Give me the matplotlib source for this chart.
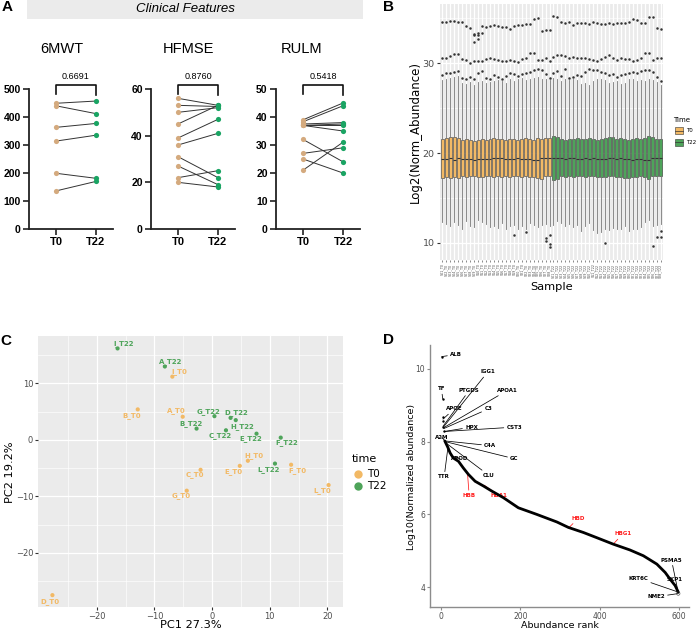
import matplotlib.pyplot as plt
from matplotlib.lines import Line2D
from matplotlib.patches import Rectangle
import numpy as np

W, H = 697, 631

# ---------------- panel A : clinical scores, paired T0 -> T22
clin_names = ["6MWT", "HFMSE", "RULM"]
p_values = ["0.6691", "0.8760", "0.5418"]
mwt_t0 = [449, 440, 363, 314, 199, 136]
mwt_t22 = [457, 412, 377, 335, 181, 170]
hfmse_t0 = [56, 53, 50, 45, 39, 36, 31, 27, 22, 20]
hfmse_t22 = [53, 52.5, 52, 53, 47, 41, 22, 19, 25, 18]
rulm_t0 = [39, 38.3, 37.5, 37, 37, 37, 32, 27, 25, 21]
rulm_t22 = [45, 44, 38, 37.5, 37, 35, 24, 29, 20, 31]
clin_ymax = [500, 60, 50]
clin_ystep = [100, 20, 10]

# ---------------- panel B : per-sample boxplot stats (28 T0 + 28 T22)
q1_t0 = [17.2, 17.3, 17.2, 17.3, 17.2, 17.4, 17.3,
         17.4, 17.4, 17.3, 17.3, 17.4, 17.4, 17.3,
         17.4, 17.3, 17.4, 17.3, 17.4, 17.4, 17.3,
         17.4, 17.3, 17.3, 17.2, 17.1, 17.4, 17.4]
med_t0 = [19.3, 19.3, 19.4, 19.2, 19.4, 19.3, 19.3,
          19.3, 19.2, 19.3, 19.3, 19.3, 19.3, 19.4,
          19.4, 19.4, 19.3, 19.3, 19.3, 19.4, 19.3,
          19.3, 19.3, 19.2, 19.2, 19.5, 19.5, 19.4]
q3_t0 = [21.6, 21.7, 21.8, 21.8, 21.7, 21.5, 21.6,
         21.5, 21.4, 21.5, 21.6, 21.5, 21.6, 21.7,
         21.6, 21.6, 21.5, 21.6, 21.6, 21.5, 21.6,
         21.7, 21.6, 21.5, 21.7, 21.6, 21.7, 21.7]
wlo_t0 = [12.3, 12.1, 11.9, 12.3, 12.0, 11.6, 12.4,
          11.9, 11.8, 12.6, 12.3, 12.1, 11.8, 11.9,
          11.7, 12.2, 11.6, 11.9, 12.0, 11.5, 11.9,
          11.6, 12.2, 12.0, 11.8, 12.0, 12.1, 11.9]
whi_t0 = [28.1, 28.3, 28.4, 28.5, 28.6, 27.8, 27.7,
          27.9, 27.6, 27.9, 28.0, 27.8, 27.9, 28.0,
          28.1, 28.0, 27.8, 28.2, 28.0, 28.2, 28.4,
          28.1, 28.3, 28.4, 28.5, 28.3, 28.3, 28.1]
fl_top_t0 = [34.6, 34.6, 34.7, 34.7, 34.6, 34.6, 34.1,
             33.9, 33.2, 33.4, 34.2, 34.0, 34.2, 34.3,
             34.1, 34.0, 34.0, 33.8, 34.1, 34.3, 34.3,
             34.4, 34.4, 34.9, 35.0, 33.6, 33.7, 33.7]
fl_mid_t0 = [30.6, 30.6, 30.8, 31.0, 31.0, 30.5, 30.4,
             30.0, 30.2, 30.3, 30.3, 30.5, 30.6, 30.5,
             30.4, 30.3, 30.2, 30.4, 30.3, 30.1, 30.5,
             30.6, 31.1, 31.1, 30.4, 30.4, 30.6, 30.2]
fl_low_t0 = [28.7, 28.9, 28.9, 29.0, 29.1, 28.4, 28.3,
             28.5, 28.3, 28.9, 29.1, 28.4, 28.3, 28.7,
             28.5, 28.3, 28.6, 28.9, 28.8, 28.6, 28.8,
             28.9, 29.0, 29.3, 29.4, 29.3, 28.8, 28.4]
q1_t22 = [17.0, 17.1, 17.4, 17.3, 17.4, 17.3, 17.4,
          17.4, 17.3, 17.4, 17.4, 17.3, 17.3, 17.3,
          17.4, 17.4, 17.3, 17.3, 17.2, 17.2, 17.3,
          17.3, 17.4, 17.3, 17.1, 17.4, 17.4, 17.5]
med_t22 = [19.4, 19.4, 19.4, 19.3, 19.4, 19.4, 19.3,
           19.3, 19.4, 19.3, 19.4, 19.3, 19.3, 19.3,
           19.4, 19.4, 19.3, 19.4, 19.3, 19.3, 19.2,
           19.3, 19.3, 19.2, 19.2, 19.5, 19.5, 19.5]
q3_t22 = [21.9, 21.8, 21.6, 21.5, 21.6, 21.6, 21.7,
          21.6, 21.6, 21.7, 21.6, 21.5, 21.6, 21.7,
          21.8, 21.8, 21.6, 21.7, 21.6, 21.5, 21.6,
          21.7, 21.6, 21.7, 21.9, 21.8, 21.6, 21.6]
wlo_t22 = [12.0, 12.4, 12.2, 11.9, 12.1, 11.8, 12.0,
           11.3, 11.9, 12.2, 11.4, 11.1, 11.2, 11.6,
           11.4, 11.7, 11.6, 11.5, 11.9, 11.3, 11.6,
           11.5, 11.8, 12.3, 12.5, 11.9, 12.0, 12.1]
whi_t22 = [28.4, 28.2, 28.0, 28.3, 28.1, 28.2, 28.1,
           27.7, 27.8, 27.6, 28.0, 28.3, 28.3, 28.1,
           27.8, 27.9, 28.0, 27.7, 27.8, 28.2, 28.2,
           28.0, 28.1, 28.0, 28.3, 28.1, 27.9, 27.6]
fl_top_t22 = [35.3, 35.2, 34.6, 34.5, 34.6, 34.3, 34.5,
              34.5, 34.5, 34.4, 34.6, 34.5, 34.4, 34.4,
              34.5, 34.4, 34.5, 34.5, 34.5, 34.6, 34.9,
              34.8, 34.5, 34.5, 35.2, 35.2, 33.9, 33.8]
fl_mid_t22 = [30.7, 30.9, 30.9, 30.8, 30.6, 30.7, 30.6,
              30.6, 30.6, 30.5, 30.4, 30.3, 30.5, 30.7,
              30.9, 30.6, 30.4, 30.6, 30.5, 30.5, 30.2,
              30.4, 30.6, 31.1, 31.1, 30.4, 30.6, 30.6]
fl_low_t22 = [28.9, 29.1, 28.6, 29.4, 28.4, 28.5, 28.7,
              28.6, 29.0, 29.4, 29.3, 29.2, 29.0, 28.9,
              28.7, 28.8, 28.5, 28.7, 28.8, 28.9, 29.0,
              28.9, 29.1, 29.2, 29.2, 29.0, 28.5, 28.0]
extra_pos = [9, 9, 10, 10, 11, 19, 22, 27, 27, 28, 28, 28, 42, 54, 55, 56, 56]
extra_val = [33.3, 32.4, 33.1, 32.7, 33.4, 10.9, 11.2, 10.6, 10.2, 10.9, 9.9,
             9.5, 10.0, 9.7, 10.7, 10.7, 11.3]

# ---------------- panel C : PCA
pc_names = ["I_T22", "A_T22", "I_T0", "B_T0", "A_T0", "G_T22", "D_T22",
            "H_T22", "B_T22", "C_T22", "E_T22", "F_T22", "H_T0", "L_T22",
            "F_T0", "E_T0", "C_T0", "G_T0", "L_T0", "D_T0"]
pc1 = [-16.4, -8.2, -6.9, -12.9, -5.1, 0.4, 3.2, 4.1, -2.7, 2.4, 7.7, 11.9,
       6.2, 10.9, 13.7, 4.8, -2.0, -4.4, 20.2, -27.7]
pc2 = [16.2, 13.0, 11.2, 5.4, 4.1, 4.2, 3.9, 3.5, 2.0, 1.7, 1.1, 0.4,
       -3.7, -4.2, -4.4, -4.6, -5.3, -9.0, -8.0, -27.5]
# label offsets (pixels, right / down)
lab_dx = [6, 6, 7, -6, -6, -6, 6, 6, -6, -6, -6, 6, 6, -6, 6, -6, -6, -6, -6, -2]
lab_dy = [-5, -5, -5, 6, -6, -5, -5, 6, -5, 5, 5, 5, -5, 6, 6, 6, 5, 5, 5, 6]

# ---------------- panel D : abundance rank
top_rank = [1.7, 4.5, 5, 5, 6, 8]
top_value = [10.34, 9.18, 8.68, 8.58, 8.40, 8.28]
curve_rank = [9.5, 17, 23, 31, 44, 56, 69, 86, 107, 128, 157, 195, 241, 292,
              321, 359, 392, 434, 476, 510, 544, 565, 577, 590, 598]
curve_value = [8.02, 7.85, 7.69, 7.55, 7.46, 7.28, 7.10, 6.91, 6.78, 6.64,
               6.46, 6.18, 6.00, 5.79, 5.64, 5.50, 5.36, 5.18, 5.02, 4.86,
               4.63, 4.40, 4.22, 4.04, 3.86]
genes = ["ALB", "IGG1", "TF", "PTGDS", "APOA1", "APOE", "C3", "HPX", "CST3",
         "A2M", "C4A", "GC", "APOD", "CLU", "TTR", "HBB", "HBA1", "HBD",
         "HBG1", "PSMA5", "SKP1", "KRT6C", "NME2"]
gene_rank = [1.7, 6, 4.5, 5, 6, 5, 7, 8, 8, 10, 10, 11, 25, 14, 17, 67, 109,
             321, 434, 596, 592, 598, 598]
gene_value = [10.34, 8.4, 9.18, 8.42, 8.38, 8.62, 8.36, 8.28, 8.28, 8.02,
              8.02, 8.0, 7.62, 7.95, 7.8, 7.1, 6.8, 5.62, 5.18, 3.95, 4.02,
              3.86, 3.82]
label_rank = [38, 118, 1, 71, 167, 33, 119, 77, 185, 2, 124, 185, 48, 121, 8,
              71, 145, 346, 458, 581, 590, 497, 542]
label_value = [10.4, 9.92, 9.45, 9.41, 9.41, 8.9, 8.9, 8.4, 8.4, 8.12, 7.89,
               7.53, 7.53, 7.07, 7.03, 6.52, 6.52, 5.89, 5.46, 4.74, 4.22,
               4.24, 3.73]
red_genes = ["HBB", "HBA1", "HBD", "HBG1"]

TAN, GREEN_A = "#D4AA7E", "#1AA463"
ORANGE, GREEN = "#F2B965", "#4EA45A"
GREY_BG = "#EBEBEB"
TXT = "#4D4D4D"


def box(left, top, right, bottom):
    # pixel box -> figure fraction rect
    return [left / W, 1 - bottom / H, (right - left) / W, (bottom - top) / H]


fig = plt.figure(figsize=(W / 100, H / 100), dpi=100)
ARIAL = "Liberation Sans"

# banner + panel letters
fig.add_artist(Rectangle((27 / W, 1 - 19 / H), 336 / W, 19 / H,
                         transform=fig.transFigure, color=GREY_BG, lw=0))
fig.text(185 / W, 1 - 9 / H, "Clinical Features", style="italic",
         fontsize=9.5, family=ARIAL, ha="center", va="center")
for letter, x, y in [("A", 7, 7), ("B", 388, 7), ("C", 6, 341), ("D", 388, 340)]:
    fig.text(x / W, 1 - y / H, letter, fontsize=11, weight="bold",
             family=ARIAL, ha="center", va="center")

# ---------------- A
clin_t0 = [mwt_t0, hfmse_t0, rulm_t0]
clin_t22 = [mwt_t22, hfmse_t22, rulm_t22]
a_left = [29, 151, 276]
title_x = [0.15, 0.25, -0.03]
for i in range(3):
    ax = fig.add_axes(box(a_left[i], 89, a_left[i] + 84, 229))
    t0, t22 = clin_t0[i], clin_t22[i]
    for a, b in zip(t0, t22):
        ax.plot([0, 1], [a, b], color="#333333", lw=0.7, zorder=2)
    ax.scatter(np.zeros(len(t0)), t0, s=14, color=TAN, lw=0, zorder=3,
               clip_on=False)
    ax.scatter(np.ones(len(t22)), t22, s=14, color=GREEN_A, lw=0, zorder=3,
               clip_on=False)
    ax.set_xlim(-0.675, 1.425)
    ax.set_ylim(0, clin_ymax[i])
    ax.set_yticks(range(0, clin_ymax[i] + 1, clin_ystep[i]))
    ax.set_xticks([0, 1])
    ax.set_xticklabels(["T0", "T22"])
    for s in ["top", "right"]:
        ax.spines[s].set_visible(False)
    for s in ["left", "bottom"]:
        ax.spines[s].set_linewidth(1.3)
        ax.spines[s].set_color("#222222")
    ax.tick_params(length=4, width=1.2, color="#222222", pad=2)
    for lab in ax.get_xticklabels() + ax.get_yticklabels():
        lab.set_fontweight("bold")
        lab.set_family(ARIAL)
        lab.set_fontsize(7.5)
    for lab in ax.get_xticklabels():
        lab.set_fontsize(8)
    tr = ax.get_xaxis_transform()
    ax.plot([0, 0, 1, 1], [0.964, 1.029, 1.029, 0.957], transform=tr,
            clip_on=False, color="#111111", lw=1.2)
    ax.text(0.5, 1.086, p_values[i], transform=tr, ha="center", va="center",
            fontsize=6.5, family=ARIAL)
    ax.text(title_x[i], 1.286, clin_names[i], transform=tr, ha="center",
            va="center", fontsize=10.5, family=ARIAL)

# ---------------- B
axb = fig.add_axes(box(440, 4, 663, 260))
axb.set_facecolor(GREY_BG)
q1 = q1_t0 + q1_t22
med = med_t0 + med_t22
q3 = q3_t0 + q3_t22
wlo = wlo_t0 + wlo_t22
whi = whi_t0 + whi_t22
fl_top = fl_top_t0 + fl_top_t22
fl_mid = fl_mid_t0 + fl_mid_t22
fl_low = fl_low_t0 + fl_low_t22
n_box = len(q1)
pos = list(range(1, n_box + 1))
stats = []
for k in range(n_box):
    fl = [fl_top[k], fl_mid[k], fl_low[k]]
    fl += [v for p, v in zip(extra_pos, extra_val) if p == k + 1]
    stats.append(dict(med=med[k], q1=q1[k], q3=q3[k], whislo=wlo[k],
                      whishi=whi[k], fliers=fl))
bp = axb.bxp(stats, positions=pos, widths=0.75, patch_artist=True,
             showcaps=False,
             boxprops=dict(edgecolor="#333333", lw=0.4),
             whiskerprops=dict(color="#777777", lw=0.6),
             medianprops=dict(color="#333333", lw=0.8),
             flierprops=dict(marker="o", ms=1.8, mfc="#333333", mec="none"))
for k, patch in enumerate(bp["boxes"]):
    patch.set_facecolor(ORANGE if k < len(q1_t0) else GREEN)
axb.set_xlim(0.4, n_box + 0.6)
axb.set_ylim(8.1, 36.6)
axb.set_yticks([10, 20, 30])
axb.set_yticks([15, 25, 35], minor=True)
sample_labels = ["S%02d_T0" % (k + 1) for k in range(len(q1_t0))] + \
                ["S%02d_T22" % (k + 1) for k in range(len(q1_t22))]
axb.set_xticks(pos)
axb.set_xticklabels(sample_labels, rotation=90, fontsize=2.3, color=TXT)
axb.set_axisbelow(True)
axb.grid(which="major", color="white", lw=0.9)
axb.grid(which="minor", axis="y", color="white", lw=0.45)
for s in axb.spines.values():
    s.set_visible(False)
axb.tick_params(axis="y", which="major", labelsize=6.8, labelcolor=TXT,
                length=2.5, color="#333333", pad=1.5)
axb.tick_params(axis="y", which="minor", length=0)
axb.tick_params(axis="x", length=1.5, width=0.4, color="#333333", pad=1)
axb.text(-0.112, 0.5, "Log2(Norm_Abundance)", transform=axb.transAxes,
         rotation=90, ha="center", va="center", fontsize=8.5)
axb.text(0.502, -0.105, "Sample", transform=axb.transAxes, ha="center",
         va="center", fontsize=8.2)
fig.text(673 / W, 1 - 120 / H, "Time", fontsize=5, va="center")
for lab, col, y in [("T0", ORANGE, 131), ("T22", GREEN, 142)]:
    fig.add_artist(Rectangle((675 / W, 1 - (y + 3.5) / H), 8 / W, 7 / H,
                             transform=fig.transFigure, fc=col,
                             ec="#333333", lw=0.4))
    fig.add_artist(Line2D([675 / W, 683 / W], [1 - y / H, 1 - y / H],
                          transform=fig.transFigure, color="#333333", lw=0.5))
    fig.text(686 / W, 1 - y / H, lab, fontsize=4, va="center")

# ---------------- C
axc = fig.add_axes(box(38, 336, 343, 607))
axc.set_facecolor(GREY_BG)
pc_cols = [ORANGE if n.endswith("_T0") else GREEN for n in pc_names]
axc.scatter(pc1, pc2, s=9, c=pc_cols, lw=0, zorder=3)
for name, x, y, dx, dy, col in zip(pc_names, pc1, pc2, lab_dx, lab_dy, pc_cols):
    axc.annotate(name, (x, y), xytext=(dx * 0.72, -dy * 0.72),
                 textcoords="offset points", ha="center", va="center",
                 fontsize=5, weight="bold", color=col, zorder=4)
axc.set_xlim(-30.2, 22.7)
axc.set_ylim(-29.6, 18.4)
axc.set_xticks([-20, -10, 0, 10, 20])
axc.set_yticks([-20, -10, 0, 10])
axc.set_xticks([-25, -15, -5, 5, 15], minor=True)
axc.set_yticks([-25, -15, -5, 5, 15], minor=True)
axc.set_axisbelow(True)
axc.grid(which="major", color="white", lw=0.9)
axc.grid(which="minor", color="white", lw=0.45)
for s in axc.spines.values():
    s.set_visible(False)
axc.tick_params(which="major", labelsize=6, labelcolor=TXT, length=2.5,
                color="#333333", pad=1)
axc.tick_params(which="minor", length=0)
axc.text(-0.092, 0.498, "PC2 19.2%", transform=axc.transAxes, rotation=90,
         ha="center", va="center", fontsize=8.2)
axc.text(0.5, -0.066, "PC1 27.3%", transform=axc.transAxes, ha="center",
         va="center", fontsize=8.2)
fig.text(352 / W, 1 - 459 / H, "time", fontsize=8, va="center")
for lab, col, y in [("T0", ORANGE, 474), ("T22", GREEN, 486)]:
    fig.add_artist(Line2D([358 / W], [1 - y / H], transform=fig.transFigure,
                          marker="o", ms=6, color=col, mec="none"))
    fig.text(367 / W, 1 - y / H, lab, fontsize=7.5, va="center")

# ---------------- D
axd = fig.add_axes(box(430, 345, 689, 607))
axd.scatter(top_rank, top_value, s=3, color="black", lw=0, zorder=3)
axd.plot(curve_rank, curve_value, color="black", lw=2.0,
         solid_capstyle="round", zorder=3)
axd.scatter([598], [3.82], s=6, facecolor="none", edgecolor="#333333",
            lw=0.4, zorder=3)
for g, x, y, lx, ly in zip(genes, gene_rank, gene_value, label_rank, label_value):
    col = "#FF1A1A" if g in red_genes else "black"
    axd.annotate(g, (x, y), xytext=(lx, ly), ha="center", va="center",
                 fontsize=4, weight="bold", color=col, zorder=2,
                 arrowprops=dict(arrowstyle="-", color=col, lw=0.55,
                                 shrinkA=0, shrinkB=0))
axd.set_xlim(-27.7, 625)
axd.set_ylim(3.45, 10.66)
axd.set_xticks([0, 200, 400, 600])
axd.set_yticks([4, 6, 8, 10])
for s in ["top", "right"]:
    axd.spines[s].set_visible(False)
for s in ["left", "bottom"]:
    axd.spines[s].set_color("#8C8C8C")
    axd.spines[s].set_linewidth(1.0)
axd.tick_params(labelsize=5.5, labelcolor=TXT, length=2.5, color="#8C8C8C",
                pad=1)
axd.text(-0.07, 0.496, "Log10(Normalized abundance)", transform=axd.transAxes,
         rotation=90, ha="center", va="center", fontsize=6.8)
axd.text(0.502, -0.07, "Abundance rank", transform=axd.transAxes,
         ha="center", va="center", fontsize=6.8)

fig.savefig("out.png", dpi=100)
